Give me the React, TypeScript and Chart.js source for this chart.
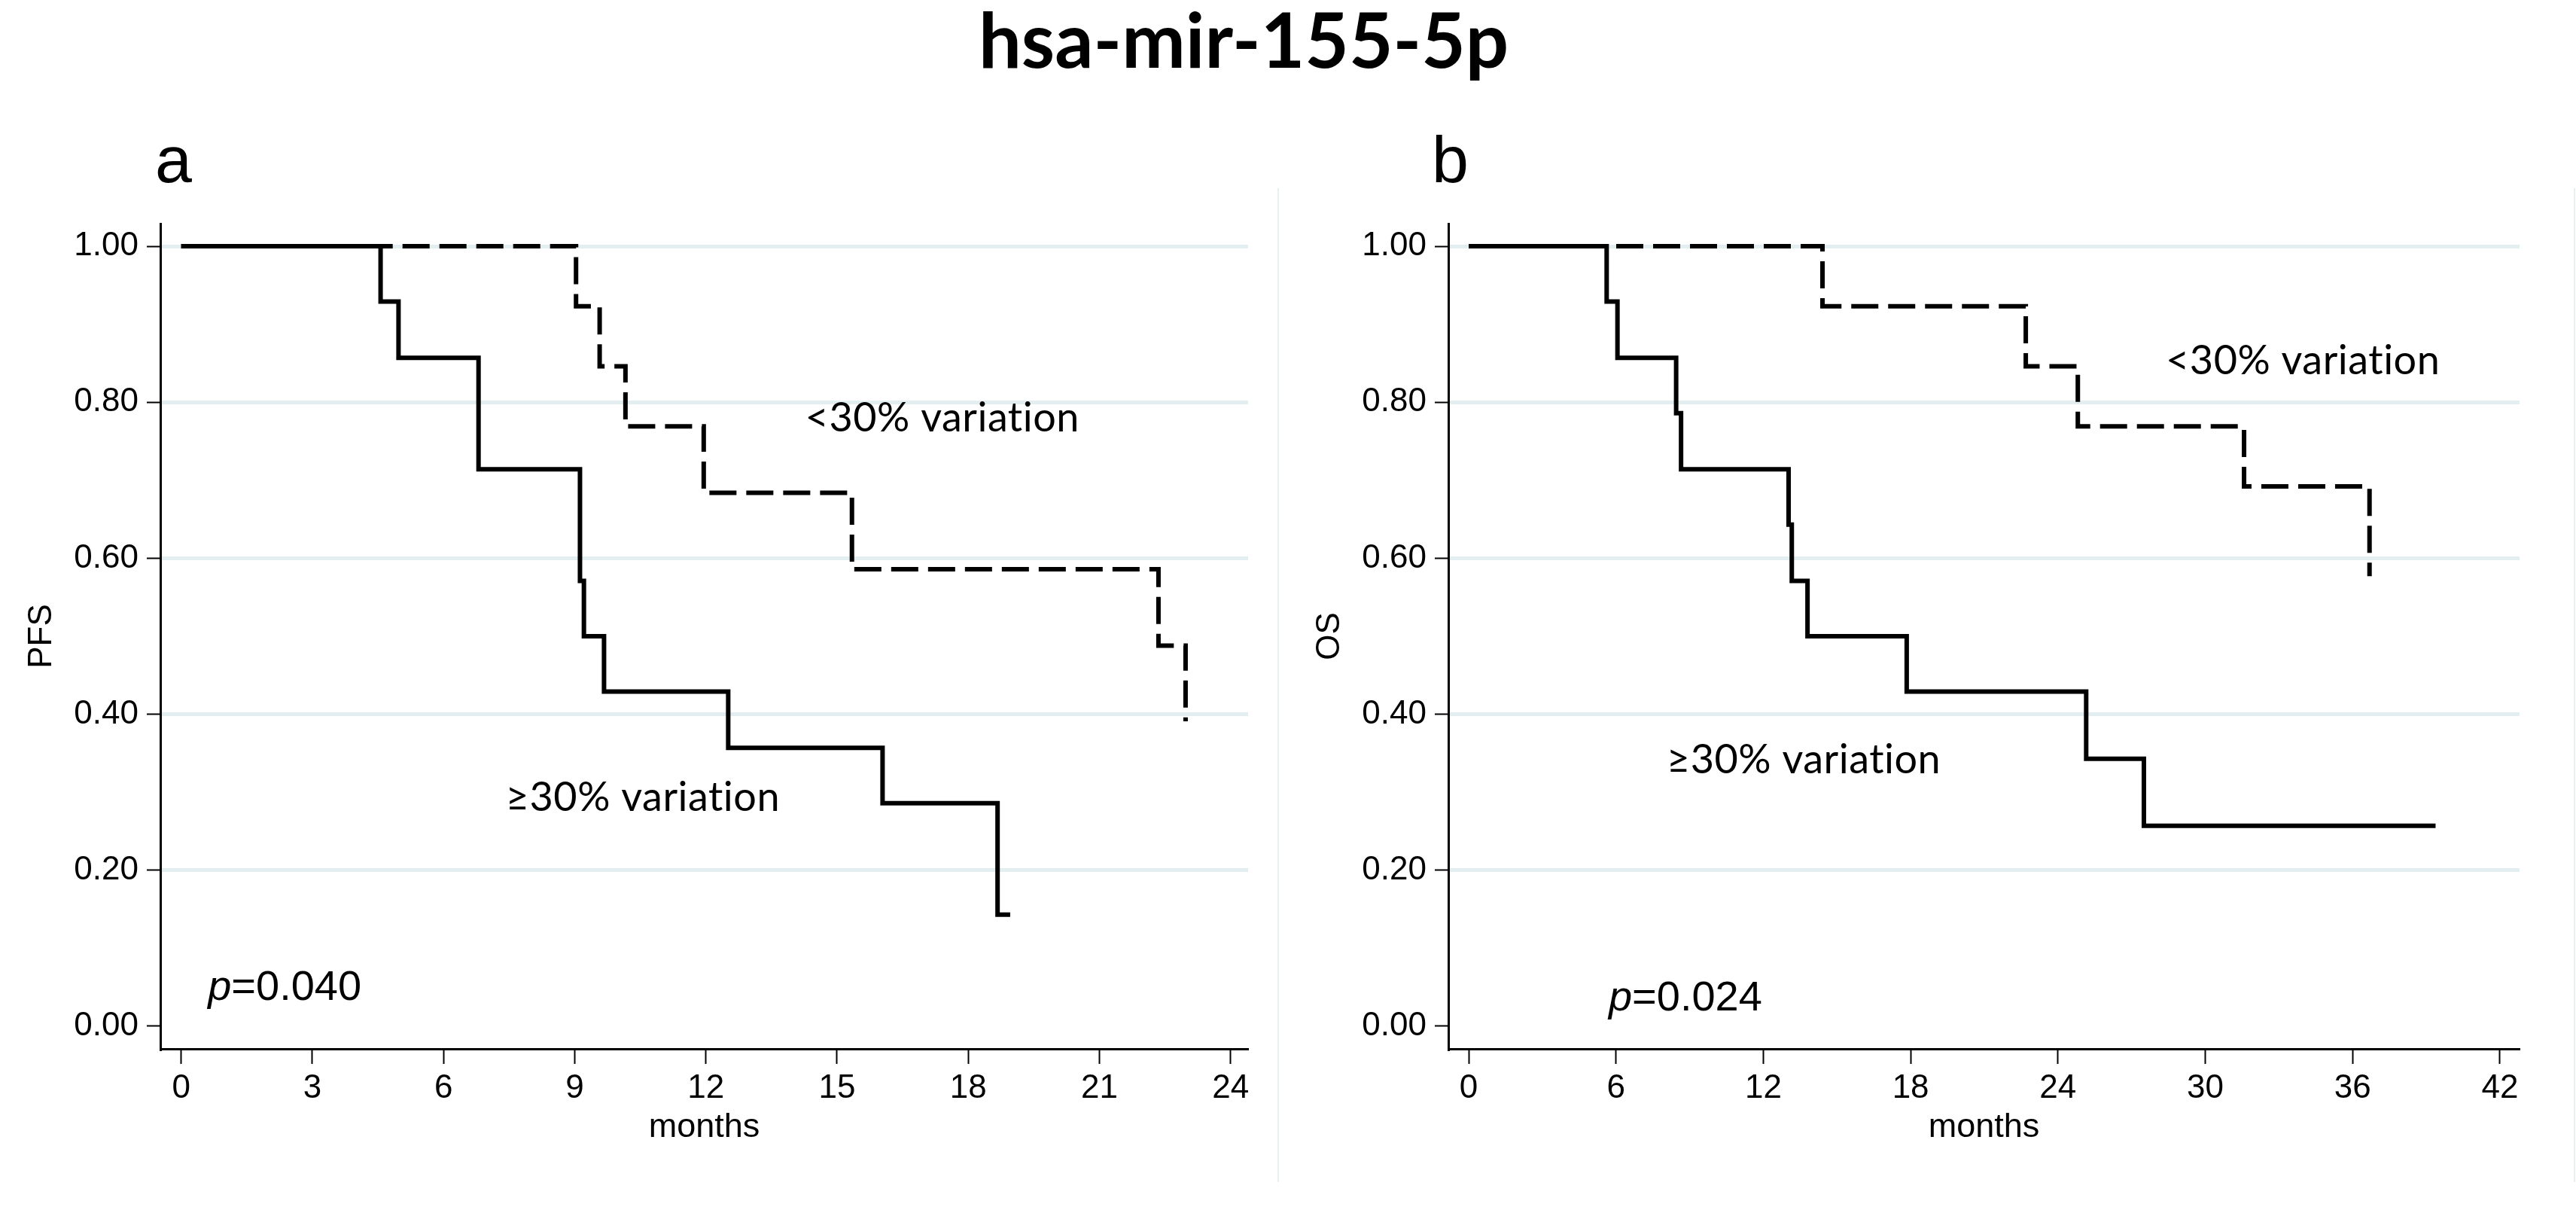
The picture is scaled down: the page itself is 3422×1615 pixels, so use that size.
import React, { useEffect, useRef } from "react";
import { Chart, registerables } from "chart.js";

Chart.register(...registerables);

// ---------- data ----------
const FIGURE_TITLE = "hsa-mir-155-5p";
const PANEL_LETTERS = ["a", "b"];
const Y_TITLES = ["PFS", "OS"];
const X_TITLE = "months";
const GROUP_LABELS = ["\u226530% variation", "<30% variation"];
const P_VALUES = ["0.040", "0.024"];

const Y_TICKS = [0, 0.2, 0.4, 0.6, 0.8, 1.0];
const X_TICKS_A = [0, 3, 6, 9, 12, 15, 18, 21, 24];
const X_TICKS_B = [0, 6, 12, 18, 24, 30, 36, 42];

// panel a (PFS)
const A_HIGH_TIME = [0, 4.56, 4.97, 6.8, 9.12, 9.21, 9.67, 12.51, 16.04, 18.67, 18.96];
const A_HIGH_SURV = [1, 0.929, 0.857, 0.714, 0.571, 0.5, 0.429, 0.357, 0.286, 0.143, 0.143];
const A_LOW_TIME = [0, 9.03, 9.57, 10.16, 11.95, 15.34, 22.35, 22.97];
const A_LOW_SURV = [1, 0.923, 0.846, 0.769, 0.684, 0.586, 0.488, 0.391];

// panel b (OS)
const B_HIGH_TIME = [0, 5.62, 6.06, 8.45, 8.65, 13.03, 13.16, 13.8, 17.84, 25.15, 27.5, 39.38];
const B_HIGH_SURV = [1, 0.929, 0.857, 0.786, 0.714, 0.643, 0.571, 0.5, 0.429, 0.343, 0.257, 0.257];
const B_LOW_TIME = [0, 14.41, 22.69, 24.81, 31.58, 36.69];
const B_LOW_SURV = [1, 0.923, 0.846, 0.769, 0.692, 0.577];

// ---------- styling ----------
const ARIAL = "'Liberation Sans', Arial, sans-serif";
const LATO = "Lato, 'Open Sans', sans-serif";
const GRID = "#e2eef0";
const W = 3422;
const H = 1615;

const pts = (t: number[], s: number[]) => t.map((x, i) => ({ x, y: s[i] }));

const notesPlugin = {
  id: "notes",
  afterDatasetsDraw(chart: any, _args: any, opts: any) {
    const { ctx } = chart;
    const xs = chart.scales.x;
    const ys = chart.scales.y;
    ctx.save();
    ctx.fillStyle = "#000";
    ctx.textAlign = "left";
    ctx.textBaseline = "alphabetic";
    for (const n of opts.items || []) {
      let px = xs.getPixelForValue(n.x);
      const py = ys.getPixelForValue(n.y);
      for (const part of n.parts) {
        ctx.font = part.font;
        try {
          (ctx as any).letterSpacing = part.spacing || "0px";
        } catch (e) {}
        ctx.fillText(part.text, px, py);
        px += ctx.measureText(part.text).width;
      }
    }
    ctx.restore();
  },
};

type PanelProps = {
  left: number;
  width: number;
  padRight: number;
  xMin: number;
  xMax: number;
  xTicks: number[];
  yTitle: string;
  high: { x: number; y: number }[];
  low: { x: number; y: number }[];
  notes: any[];
};

function Panel(p: PanelProps) {
  const ref = useRef<HTMLCanvasElement>(null);
  useEffect(() => {
    const chart = new Chart(ref.current as HTMLCanvasElement, {
      type: "line",
      data: {
        datasets: [
          {
            data: p.high,
            borderColor: "#000",
            borderWidth: 6,
            pointRadius: 0,
            stepped: true,
            fill: false,
            borderCapStyle: "butt",
            borderJoinStyle: "miter",
          },
          {
            data: p.low,
            borderColor: "#000",
            borderWidth: 6,
            borderDash: [36, 13],
            pointRadius: 0,
            stepped: true,
            fill: false,
            borderCapStyle: "butt",
            borderJoinStyle: "miter",
          },
        ],
      },
      options: {
        animation: false,
        responsive: false,
        devicePixelRatio: 1,
        layout: { padding: { left: 0, top: 297, right: p.padRight, bottom: 0 } },
        plugins: {
          legend: { display: false },
          tooltip: { enabled: false },
          title: { display: false },
          notes: { items: p.notes },
        } as any,
        scales: {
          x: {
            type: "linear",
            min: p.xMin,
            max: p.xMax,
            afterBuildTicks: (s: any) => {
              s.ticks = p.xTicks.map((v) => ({ value: v }));
            },
            afterFit: (s: any) => {
              s.height = 222;
            },
            grid: {
              drawOnChartArea: false,
              drawTicks: true,
              tickLength: 20,
              tickWidth: 2,
              tickColor: "#000",
              color: "#000",
            },
            border: { display: true, color: "#000", width: 3 },
            ticks: {
              color: "#000",
              font: { family: ARIAL, size: 44 },
              padding: 6,
              maxRotation: 0,
              autoSkip: false,
              callback: (v: any) => String(v),
            },
            title: {
              display: true,
              text: X_TITLE,
              color: "#000",
              font: { family: ARIAL, size: 45 },
              padding: { top: 0, bottom: 90 },
            },
          },
          y: {
            type: "linear",
            min: -0.029,
            max: 1.029,
            afterBuildTicks: (s: any) => {
              s.ticks = Y_TICKS.map((v) => ({ value: v }));
            },
            afterFit: (s: any) => {
              s.width = 213;
            },
            grid: {
              color: (c: any) => (c.tick && c.tick.value === 0 ? "rgba(0,0,0,0)" : GRID),
              lineWidth: 5,
              drawTicks: true,
              tickLength: 18,
              tickWidth: 2,
              tickColor: "#000",
            },
            border: { display: true, color: "#000", width: 3 },
            ticks: {
              color: "#000",
              font: { family: ARIAL, size: 44 },
              padding: 11,
              autoSkip: false,
              callback: (v: any) => Number(v).toFixed(2),
            },
            title: {
              display: true,
              text: p.yTitle,
              color: "#000",
              font: { family: ARIAL, size: 44 },
              padding: { top: 29, bottom: 0 },
            },
          },
        },
      } as any,
      plugins: [notesPlugin as any],
    });
    return () => chart.destroy();
  }, []);
  return (
    <canvas
      ref={ref}
      width={p.width}
      height={H}
      style={{ position: "absolute", left: p.left, top: 0, width: p.width, height: H, display: "block" }}
    />
  );
}

const noteLabel = (text: string, x: number, y: number) => ({
  x,
  y,
  parts: [{ text, font: `54px ${LATO}`, spacing: "0.5px" }],
});
const pLabel = (val: string, x: number, y: number) => ({
  x,
  y,
  parts: [
    { text: "p", font: `italic 56px ${ARIAL}` },
    { text: "=" + val, font: `56px ${ARIAL}` },
  ],
});

export default function App() {
  return (
    <div
      style={{
        position: "absolute",
        left: 0,
        top: 0,
        width: W,
        height: H,
        background: "#fff",
        overflow: "hidden",
      }}
    >
      <div
        style={{
          position: "absolute",
          left: 0,
          top: 1,
          width: 3304,
          textAlign: "center",
          fontFamily: LATO,
          fontWeight: 700,
          fontSize: 101,
          lineHeight: "101px",
          color: "#000",
          whiteSpace: "nowrap",
        }}
      >
        {FIGURE_TITLE}
      </div>
      <div
        style={{
          position: "absolute",
          left: 206,
          top: 168,
          fontFamily: ARIAL,
          fontSize: 88,
          lineHeight: "88px",
          color: "#000",
        }}
      >
        {PANEL_LETTERS[0]}
      </div>
      <div
        style={{
          position: "absolute",
          left: 1902,
          top: 168,
          fontFamily: ARIAL,
          fontSize: 88,
          lineHeight: "88px",
          color: "#000",
        }}
      >
        {PANEL_LETTERS[1]}
      </div>
      <div style={{ position: "absolute", left: 1697, top: 250, width: 2, height: 1320, background: "#e8f0f1" }} />
      <div style={{ position: "absolute", left: 3419, top: 250, width: 2, height: 1320, background: "#e8f0f1" }} />
      <Panel
        left={0}
        width={1698}
        padRight={40}
        xMin={-0.477}
        xMax={24.4}
        xTicks={X_TICKS_A}
        yTitle={Y_TITLES[0]}
        high={pts(A_HIGH_TIME, A_HIGH_SURV)}
        low={pts(A_LOW_TIME, A_LOW_SURV)}
        notes={[
          noteLabel(GROUP_LABELS[1], 14.27, 0.7625),
          noteLabel(GROUP_LABELS[0], 7.42, 0.276),
          pLabel(P_VALUES[0], 0.61, 0.034),
        ]}
      />
      <Panel
        left={1711}
        width={1711}
        padRight={75}
        xMin={-0.828}
        xMax={42.8}
        xTicks={X_TICKS_B}
        yTitle={Y_TITLES[1]}
        high={pts(B_HIGH_TIME, B_HIGH_SURV)}
        low={pts(B_LOW_TIME, B_LOW_SURV)}
        notes={[
          noteLabel(GROUP_LABELS[1], 28.39, 0.836),
          noteLabel(GROUP_LABELS[0], 8.06, 0.324),
          pLabel(P_VALUES[1], 5.7, 0.02),
        ]}
      />
    </div>
  );
}
